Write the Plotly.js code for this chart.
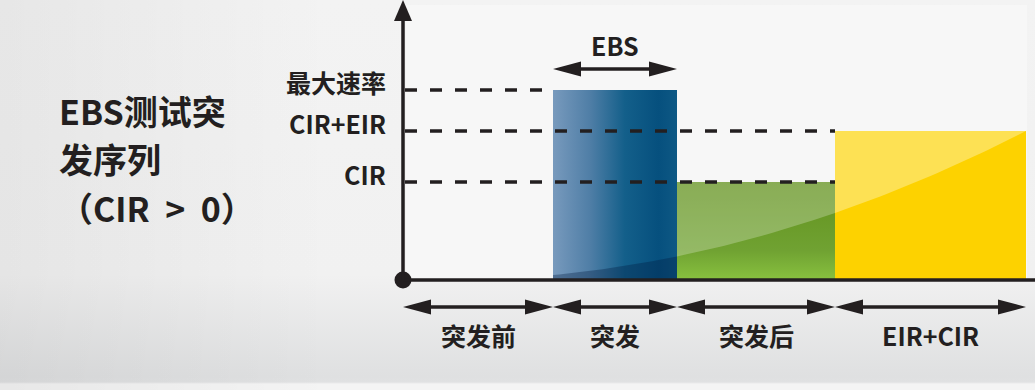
<!DOCTYPE html>
<html><head><meta charset="utf-8">
<script src="https://cdn.plot.ly/plotly-3.0.1.min.js"></script>
<style>
html,body{margin:0;padding:0;background:#f2f2f2;}
#chart{width:1035px;height:390px;
background:
 linear-gradient(90deg, rgba(0,0,0,0.05) 0px, rgba(0,0,0,0) 330px),
 linear-gradient(180deg, #f3f3f3 0px, #f1f1f1 275px, #dfe0e1 376px, #e0e1e2 382px, #f4f4f4 384px, #f4f4f4 390px);}
</style></head><body><div id="chart"></div>
<script>
// ---- data ----
const phases = ['突发前', '突发', '突发后', 'EIR+CIR'];
const phaseStart = [0, 1.50, 2.74, 4.32];
const phaseEnd = [1.50, 2.74, 4.32, 6.23];
const phaseRate = [0, 1.90, 0.98, 1.49];
const levelLabels = ['最大速率', 'CIR+EIR', 'CIR'];
const levelValues = [1.90, 1.49, 0.98];
const levelLineEndPhase = [1, 3, 3];
const ebsLabel = 'EBS';
const ebsPhase = 1;
const titleLines = ['EBS测试突', '发序列', '（CIR\u00a0\u00a0>\u00a0\u00a00）'];

// ---- geometry / style ----
const W = 1035, H = 390;
const M = {l: 403, r: 0, t: 0, b: 110};
const xRange = [0, 6.32], yRange = [0, 2.8];
const plotW = W - M.l - M.r, plotH = H - M.t - M.b;
const pxX = plotW / (xRange[1] - xRange[0]);
const pxY = plotH / (yRange[1] - yRange[0]);
const INK = '#231f20';
const FONT = '"Noto Sans CJK SC", "Noto Sans", sans-serif';
const pyPaper = px => (plotH - px) / plotH;      // pixel row (from top) -> paper y
const pxPaperX = px => (px - M.l) / plotW;       // pixel col -> paper x

const barStyles = [
  null,
  {type: 'horizontal', colorscale: [[0, '#789abd'], [0.3, '#4f7ea6'], [0.58, '#135f8a'], [0.85, '#06507e'], [1, '#0e5884']]},
  {type: 'vertical', colorscale: [[0, '#88c13f'], [0.3, '#70a232'], [1, '#62911d']]},
  {type: 'none', color: '#fdd200'}
];

const traces = [];
phases.forEach((p, i) => {
  if (!phaseRate[i]) return;
  const s = barStyles[i];
  const t = {
    type: 'scatter', mode: 'lines', name: p,
    x: [phaseStart[i], phaseStart[i], phaseEnd[i], phaseEnd[i], phaseStart[i]],
    y: [0, phaseRate[i], phaseRate[i], 0, 0],
    fill: 'toself', line: {width: 0}, hoverinfo: 'skip', showlegend: false
  };
  if (s.type === 'none') t.fillcolor = s.color;
  else t.fillgradient = {type: s.type, colorscale: s.colorscale};
  traces.push(t);
});

// decorative gloss curve across the bars
const gx0 = phaseStart[1], gx1 = phaseEnd[3];
const gloss = x => { const t = (x - gx0) / (gx1 - gx0); return (0.05 + 0.45 * t + 0.99 * t * t) * phaseRate[3] / 1.49; };
function curvePts(a, b, n) { const xs = [], ys = []; for (let k = 0; k <= n; k++) { const x = a + (b - a) * k / n; xs.push(x); ys.push(gloss(x)); } return [xs, ys]; }
(function () {
  const [cx, cy] = curvePts(phaseStart[1], phaseEnd[1], 20);
  traces.push({type: 'scatter', mode: 'lines', x: [phaseStart[1], ...cx, phaseEnd[1], phaseStart[1]], y: [0, ...cy, 0, 0],
    fill: 'toself', fillcolor: 'rgba(0,25,60,0.33)', line: {width: 0}, hoverinfo: 'skip', showlegend: false});
})();
[[2, 0.25], [3, 0.33]].forEach(([i, a]) => {
  const [cx, cy] = curvePts(phaseStart[i], phaseEnd[i], 30);
  traces.push({type: 'scatter', mode: 'lines',
    x: [...cx, phaseEnd[i], phaseStart[i], phaseStart[i]],
    y: [...cy, phaseRate[i], phaseRate[i], cy[0]],
    fill: 'toself', fillcolor: 'rgba(255,255,255,' + a + ')', line: {width: 0}, hoverinfo: 'skip', showlegend: false});
});

// origin dot
traces.push({type: 'scatter', mode: 'markers', x: [phaseStart[0]], y: [0], cliponaxis: false,
  marker: {size: 17, color: INK}, hoverinfo: 'skip', showlegend: false});

// ---- shapes ----
const shapes = [];
shapes.push({type: 'rect', xref: 'paper', yref: 'paper', x0: pxPaperX(406), x1: pxPaperX(1027), y0: 0, y1: pyPaper(5),
  fillcolor: '#f7f7f7', line: {width: 0}, layer: 'below'});

function hArrow(x0, x1, y, yref) {
  const per = yref === 'paper' ? plotH : pxY;
  const hl = 28 / pxX, hh = 7.5 / per;
  shapes.push({type: 'line', xref: 'x', yref, x0: x0 + hl * 0.5, x1: x1 - hl * 0.5, y0: y, y1: y, line: {color: INK, width: 3.5}});
  shapes.push({type: 'path', xref: 'x', yref, path: `M${x0},${y} L${x0 + hl},${y + hh} L${x0 + hl},${y - hh} Z`, fillcolor: INK, line: {width: 0}});
  shapes.push({type: 'path', xref: 'x', yref, path: `M${x1},${y} L${x1 - hl},${y + hh} L${x1 - hl},${y - hh} Z`, fillcolor: INK, line: {width: 0}});
}
levelValues.forEach((v, i) => {
  shapes.push({type: 'line', xref: 'x', yref: 'y', x0: phaseStart[0] + 0.02, x1: phaseStart[levelLineEndPhase[i]], y0: v, y1: v,
    line: {color: INK, width: 3.5, dash: '12px,13px'}, layer: 'above'});
});
shapes.push({type: 'line', xref: 'paper', yref: 'paper', x0: 0, x1: 1, y0: 0, y1: 0, line: {color: INK, width: 3.5}});
shapes.push({type: 'line', xref: 'paper', yref: 'paper', x0: 0, x1: 0, y0: 0, y1: pyPaper(16), line: {color: INK, width: 3.5}});
shapes.push({type: 'path', xref: 'paper', yref: 'paper',
  path: `M${-9 / plotW},${pyPaper(21)} L${9 / plotW},${pyPaper(21)} L0,${pyPaper(0)} Z`, fillcolor: INK, line: {width: 0}});
phases.forEach((p, i) => hArrow(phaseStart[i], phaseEnd[i], pyPaper(307), 'paper'));
const ebsY = (plotH - 69) / pxY;
hArrow(phaseStart[ebsPhase], phaseEnd[ebsPhase], ebsY, 'y');

// ---- annotations ----
const ann = [];
const txt = (size, extra) => Object.assign({showarrow: false, font: {family: FONT, size, color: INK, weight: 700}}, extra);
phases.forEach((p, i) => ann.push(txt(25, {text: p, xref: 'x', yref: 'paper', x: (phaseStart[i] + phaseEnd[i]) / 2, y: pyPaper(335), xanchor: 'center', yanchor: 'middle'})));
levelLabels.forEach((l, i) => ann.push(txt(25, {text: l, xref: 'paper', yref: 'y', x: pxPaperX(388), y: levelValues[i], yshift: 8, xanchor: 'right', yanchor: 'middle'})));
ann.push(txt(25, {text: ebsLabel, xref: 'x', yref: 'y', x: (phaseStart[ebsPhase] + phaseEnd[ebsPhase]) / 2, y: ebsY, yshift: 24, xanchor: 'center', yanchor: 'middle'}));
const titleRows = [110, 158, 207];
titleLines.forEach((t, i) => ann.push(txt(34, {text: t, xref: 'paper', yref: 'paper', x: pxPaperX(57), y: pyPaper(titleRows[i]), xanchor: 'left', yanchor: 'middle'})));

const layout = {
  width: W, height: H, margin: M,
  paper_bgcolor: 'rgba(0,0,0,0)', plot_bgcolor: 'rgba(0,0,0,0)',
  xaxis: {range: xRange, showgrid: false, zeroline: false, showticklabels: false, showline: false, ticks: '', fixedrange: true},
  yaxis: {range: yRange, showgrid: false, zeroline: false, showticklabels: false, showline: false, ticks: '', fixedrange: true},
  shapes, annotations: ann, showlegend: false, hovermode: false
};
Plotly.newPlot('chart', traces, layout, {displayModeBar: false, staticPlot: true});
</script></body></html>
